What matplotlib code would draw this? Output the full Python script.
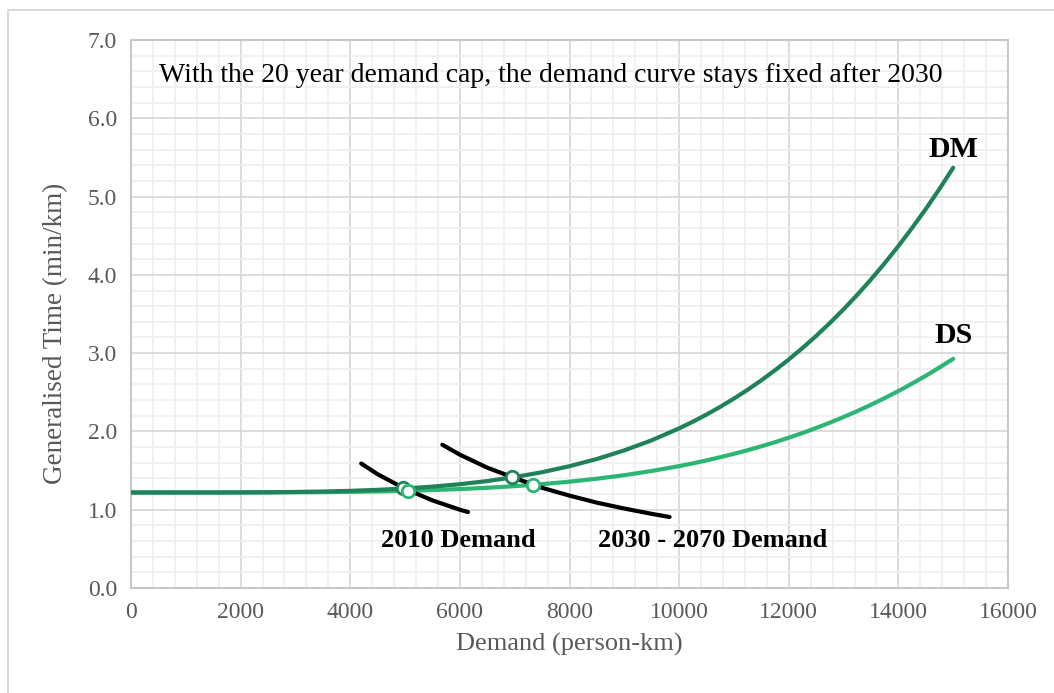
import numpy as np
import matplotlib
matplotlib.use('Agg')
import matplotlib.pyplot as plt
from matplotlib.patches import Rectangle
from matplotlib.ticker import MultipleLocator, FormatStrFormatter

plt.rcParams['font.family'] = ['Liberation Serif', 'DejaVu Serif']

# curves
demand = [0, 500, 1000, 1500, 2000, 2500, 3000, 3500, 4000, 4500, 5000, 5500, 6000, 6500, 7000, 7500,
          8000, 8500, 9000, 9500, 10000, 10250, 10500, 10750, 11000, 11250, 11500, 11750, 12000, 12250,
          12500, 12750, 13000, 13250, 13500, 13750, 14000, 14250, 14500, 14750, 15000]
dm_time = [1.22, 1.22, 1.22, 1.22, 1.221, 1.223, 1.227, 1.232, 1.241, 1.254, 1.271, 1.295, 1.326, 1.366, 1.417, 1.479,
           1.556, 1.648, 1.758, 1.887, 2.039, 2.124, 2.216, 2.314, 2.42, 2.532, 2.653, 2.782, 2.919, 3.065,
           3.22, 3.385, 3.56, 3.745, 3.941, 4.149, 4.368, 4.599, 4.841, 5.098, 5.368]
ds_time = [1.22, 1.22, 1.22, 1.22, 1.221, 1.221, 1.223, 1.225, 1.229, 1.234, 1.241, 1.251, 1.264, 1.28, 1.301, 1.327,
           1.358, 1.396, 1.441, 1.495, 1.557, 1.592, 1.63, 1.671, 1.714, 1.76, 1.81, 1.863, 1.92, 1.98,
           2.044, 2.112, 2.184, 2.26, 2.341, 2.426, 2.516, 2.611, 2.711, 2.817, 2.928]

d2010_x = [4200, 4500, 5000, 5500, 6000, 6150]
d2010_y = [1.59, 1.453, 1.267, 1.119, 1.0, 0.97]
d2030_x = [5680, 6000, 6500, 7000, 7500, 8000, 8500, 9000, 9500, 9826]
d2030_y = [1.83, 1.703, 1.537, 1.405, 1.28, 1.18, 1.09, 1.015, 0.947, 0.907]

# equilibrium points
eq_dm_x = [4968, 6960]
eq_dm_y = [1.275, 1.415]
eq_ds_x = [5060, 7340]
eq_ds_y = [1.24, 1.32]

dm_col = '#1f8258'
ds_col = '#2db574'
txt_col = '#595959'

fig = plt.figure(figsize=(10.54, 6.93), dpi=100)
fig.patches.append(Rectangle((8 / 1054, -0.05), 1.2, 1 - 10 / 693 + 0.05, transform=fig.transFigure,
                             fill=False, edgecolor='#d9d9d9', linewidth=1.5))
ax = fig.add_axes([131 / 1054, 1 - 588 / 693, (1008 - 131) / 1054, (588 - 40) / 693])

ax.set_xlim(0, 16000)
ax.set_ylim(0, 7)
ax.xaxis.set_major_locator(MultipleLocator(2000))
ax.xaxis.set_minor_locator(MultipleLocator(400))
ax.yaxis.set_major_locator(MultipleLocator(1))
ax.yaxis.set_minor_locator(MultipleLocator(0.2))
ax.yaxis.set_major_formatter(FormatStrFormatter('%.1f'))
ax.grid(which='major', color='#d9d9d9', linewidth=1.3)
ax.grid(which='minor', color='#f0f0f0', linewidth=1.3)
ax.set_axisbelow(True)
for s in ax.spines.values():
    s.set_color('#c8c8c8')
    s.set_linewidth(1.5)
ax.tick_params(which='both', length=0, labelsize=17, colors=txt_col, pad=10)

kw = dict(lw=3, solid_capstyle='round', solid_joinstyle='round', zorder=3)
ax.plot(demand, ds_time, color=ds_col, **kw)
ax.plot(demand, dm_time, color=dm_col, **kw)
ax.plot(d2010_x, d2010_y, color='black', **kw)
ax.plot(d2030_x, d2030_y, color='black', **kw)
ax.plot(eq_dm_x, eq_dm_y, 'o', ms=9, mfc='white', mec=dm_col, mew=2, zorder=4)
ax.plot(eq_ds_x, eq_ds_y, 'o', ms=9, mfc='white', mec=ds_col, mew=2, zorder=4)

ax.set_xlabel('Demand (person-km)', fontsize=19, color=txt_col, labelpad=7)
ax.set_ylabel('Generalised Time (min/km)', fontsize=19.5, color=txt_col)
ax.yaxis.set_label_coords(-0.072, 0.465)

ax.text(551 / 1054, 1 - 75 / 693, 'With the 20 year demand cap, the demand curve stays fixed after 2030',
        transform=fig.transFigure, ha='center', va='center', fontsize=20, color='black')
ax.text(15000, 5.43, 'DM', fontsize=21.5, fontweight='bold', ha='center', va='bottom')
ax.text(15000, 3.05, 'DS', fontsize=21.5, fontweight='bold', ha='center', va='bottom')
ax.text(5973, 0.61, '2010 Demand', fontsize=19, fontweight='bold', ha='center', va='center')
ax.text(10612, 0.61, '2030 - 2070 Demand', fontsize=19, fontweight='bold', ha='center', va='center')

fig.savefig('out.png', dpi=100)
